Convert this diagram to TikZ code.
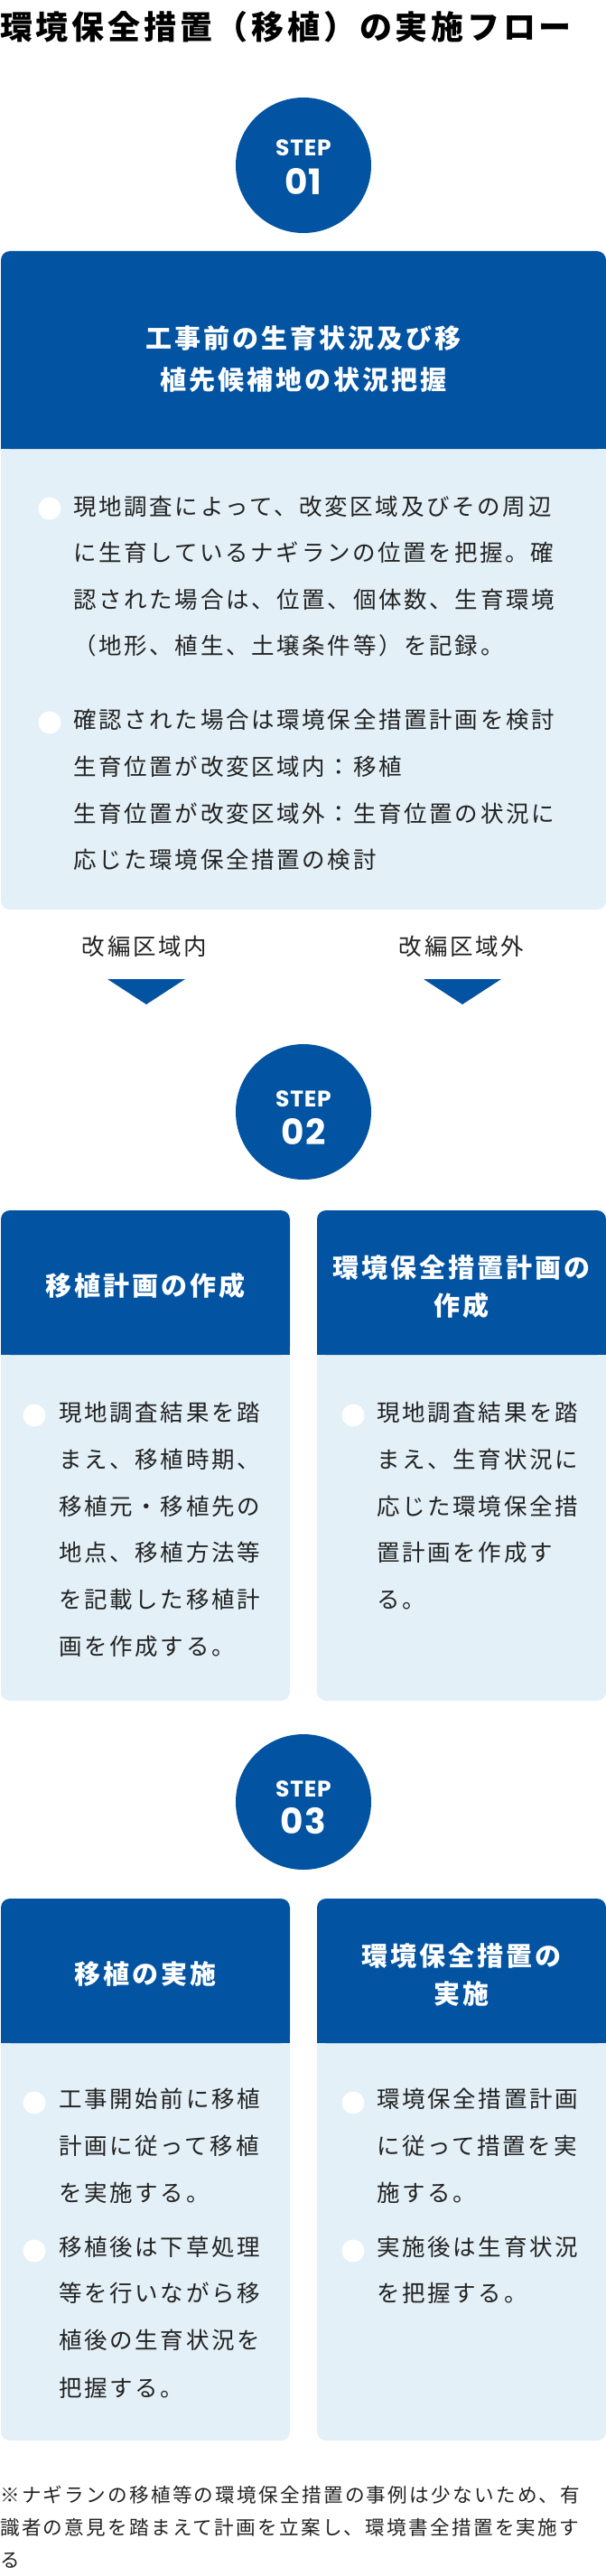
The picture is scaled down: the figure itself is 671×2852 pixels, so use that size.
\documentclass[tikz,border=0pt]{standalone}
\usepackage{fontspec}
\setmainfont{Noto Sans CJK JP}[LetterSpace=10.5]
\newfontfamily\stepfont{Poppins}[LetterSpace=3]
\definecolor{stepblue}{RGB}{2,83,161}
\definecolor{cardbg}{RGB}{227,240,247}
\definecolor{bodyink}{RGB}{34,34,34}
\begin{document}
\begin{tikzpicture}[x=1pt,y=-1pt,
        stepdot/.style={circle,fill=stepblue,minimum size=150pt,inner sep=0pt},
        steptag/.style={text=white,inner sep=0pt,font=\stepfont\bfseries\fontsize{25}{25}\selectfont},
        stepnum/.style={text=white,inner sep=0pt,font=\stepfont\bfseries\fontsize{39}{39}\selectfont},
        headline/.style={anchor=base,inner sep=0pt,text=white,font=\bfseries\fontsize{29}{34}\selectfont},
        bodyline/.style={anchor=base west,inner sep=0pt,text=bodyink,font=\fontsize{25.5}{30}\selectfont},
        bulletdot/.style={circle,fill=white,minimum size=25pt,inner sep=0pt},
        noteline/.style={anchor=base west,inner sep=0pt,text=bodyink,font=\fontsize{21.6}{26}\selectfont}]
    \useasboundingbox (0,0) rectangle (671,2852);
    %% title
    \node[anchor=base west,inner sep=0pt,font=\bfseries\fontsize{36}{40}\selectfont] (title) at (0,44) {環境保全措置（移植）の実施フロー};
    %% cards
    \foreach \xa/\xb/\ya/\yb/\yc in {1/671/278/497/1007,1/321/1340/1500/1883,351/671/1340/1500/1883,1/321/2102/2262/2702,351/671/2102/2262/2702} {
        \fill[cardbg,rounded corners=10pt] (\xa,\yb-20) rectangle (\xb,\yc);
        \fill[stepblue,rounded corners=10pt] (\xa,\ya) rectangle (\xb,\yb);
        \fill[stepblue] (\xa,\ya+20) rectangle (\xb,\yb);
    }
    %% step circles
    \foreach \n/\y/\a/\b in {01/183/164/201,02/1231/1217/1253,03/1995/1981/2016} {
        \node[stepdot] (step\n) at (336,\y) {};
        \node[steptag] (tag\n) at (336,\a) {STEP};
        \node[stepnum] (num\n) at (336,\b) {\n};
    }
    %% headings
    \node[headline] (h1a) at (336,385) {工事前の生育状況及び移};
    \node[headline] (h1b) at (336,431) {植先候補地の状況把握};
    \node[headline] (h2l) at (161,1434) {移植計画の作成};
    \node[headline] (h2ra) at (511,1414) {環境保全措置計画の};
    \node[headline] (h2rb) at (511,1456) {作成};
    \node[headline] (h3l) at (161,2196) {移植の実施};
    \node[headline] (h3ra) at (511,2176) {環境保全措置の};
    \node[headline] (h3rb) at (511,2218) {実施};
    %% bullets
    \foreach \x/\y [count=\i] in {55/563,55/800,38/1567,391/1567,38/2328,38/2492,391/2328,391/2492}
        \node[bulletdot] (dot\i) at (\x,\y) {};
    %% step 1 text
    \foreach \y/\t [count=\i] in {570/現地調査によって、改変区域及びその周辺,621/に生育しているナギランの位置を把握。確,673/認された場合は、位置、個体数、生育環境,724/（地形、植生、土壌条件等）を記録。,806/確認された場合は環境保全措置計画を検討,858/生育位置が改変区域内：移植,910/生育位置が改変区域外：生育位置の状況に,961/応じた環境保全措置の検討}
        \node[bodyline] (one\i) at (81,\y) {\t};
    %% branches
    \node[bodyline,anchor=base] (inside) at (160,1057) {改編区域内};
    \node[bodyline,anchor=base] (outside) at (511,1057) {改編区域外};
    \foreach \x in {162,512}
        \fill[stepblue] (\x-43,1084) -- (\x+43,1084) -- (\x,1112) -- cycle;
    %% step 2 text
    \foreach \x/\y/\t [count=\i] in {65/1573/現地調査結果を踏,65/1625/まえ、移植時期、,65/1677/移植元・移植先の,65/1728/地点、移植方法等,65/1780/を記載した移植計,65/1832/画を作成する。,417/1573/現地調査結果を踏,417/1625/まえ、生育状況に,417/1677/応じた環境保全措,417/1728/置計画を作成す,417/1780/る。}
        \node[bodyline] (two\i) at (\x,\y) {\t};
    %% step 3 text
    \foreach \x/\y/\t [count=\i] in {65/2333/工事開始前に移植,65/2385/計画に従って移植,65/2437/を実施する。,65/2497/移植後は下草処理,65/2548/等を行いながら移,65/2600/植後の生育状況を,65/2653/把握する。,417/2333/環境保全措置計画,417/2385/に従って措置を実,417/2437/施する。,417/2497/実施後は生育状況,417/2548/を把握する。}
        \node[bodyline] (three\i) at (\x,\y) {\t};
    %% note
    \foreach \y/\t [count=\i] in {2770/※ナギランの移植等の環境保全措置の事例は少ないため、有,2806/識者の意見を踏まえて計画を立案し、環境書全措置を実施す,2842/る}
        \node[noteline] (note\i) at (0,\y) {\t};
\end{tikzpicture}
\end{document}
